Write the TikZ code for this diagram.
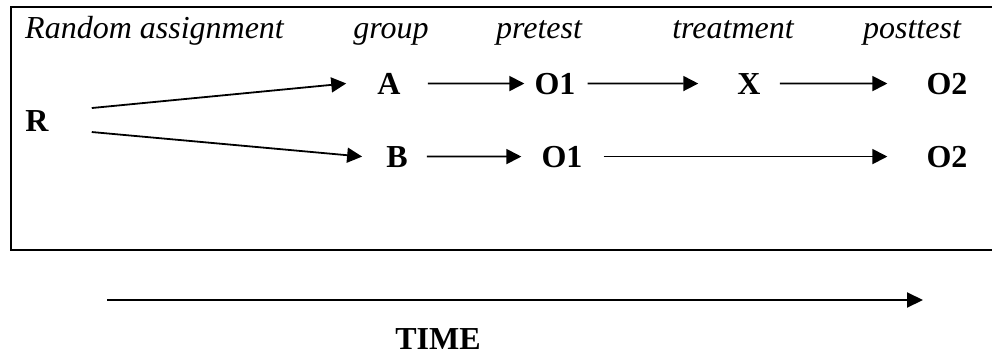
\documentclass[tikz,border=0pt]{standalone}
\usepackage{fontspec}
\setmainfont{Liberation Serif}
\usetikzlibrary{arrows.meta}

\tikzset{
  heading/.style={anchor=base, inner sep=0pt, font=\fontsize{32}{32}\selectfont\itshape},
  stage/.style={anchor=base, inner sep=0pt, font=\fontsize{32}{32}\selectfont\bfseries},
  flow/.style={line width=1.8pt, -{Triangle[length=15pt,width=15pt]}},
  frame/.style={line width=2.5pt}
}

\begin{document}
\begin{tikzpicture}[x=1pt,y=-1pt]
  \useasboundingbox (0,0) rectangle (992,354);

  % outer frame (right side runs off the page)
  \draw[frame] (1010,7) -- (11,7) -- (11,250) -- (1010,250);

  % column headings
  \node[heading, anchor=base west] (hrand) at (25,38) {Random assignment};
  \node[heading] (hgroup) at (391,38) {group};
  \node[heading] (hpre)   at (539,38) {pretest};
  \node[heading] (htreat) at (733,38) {treatment};
  \node[heading] (hpost)  at (912,38) {posttest};

  % design symbols
  \node[stage] (R)   at (37,131)  {R};
  \node[stage] (A)   at (389,94)  {A};
  \node[stage] (Oa1) at (555,94)  {O1};
  \node[stage] (X)   at (749,94)  {X};
  \node[stage] (Oa2) at (947,94)  {O2};
  \node[stage] (B)   at (397,167) {B};
  \node[stage] (Ob1) at (562,167) {O1};
  \node[stage] (Ob2) at (947,167) {O2};

  % random assignment to groups
  \draw[flow] ([xshift=43pt,yshift=12.5pt]R.east) -- ([xshift=-31pt]A.west);
  \draw[flow] ([xshift=43pt,yshift=-11.5pt]R.east) -- ([xshift=-24pt]B.west);

  % group A: pretest, treatment, posttest
  \draw[flow, shorten <=27pt, shorten >=10pt] (A.east)   -- (Oa1.west);
  \draw[flow, shorten <=12pt, shorten >=39pt] (Oa1.east) -- (X.west);
  \draw[flow, shorten <=19pt, shorten >=39pt] (X.east)   -- (Oa2.west);

  % group B: pretest, posttest
  \draw[flow, shorten <=19pt, shorten >=20pt] (B.east)   -- (Ob1.west);
  \draw[flow, shorten <=21pt, shorten >=39pt] (Ob1.east) -- (Ob2.west);

  % time axis
  \coordinate (t0) at (107,300);
  \coordinate (t1) at (923,300);
  \draw[line width=2pt, -{Triangle[length=16pt,width=15pt]}] (t0) -- (t1);
  \node[stage] (time) at (438,349) {TIME};
\end{tikzpicture}
\end{document}
